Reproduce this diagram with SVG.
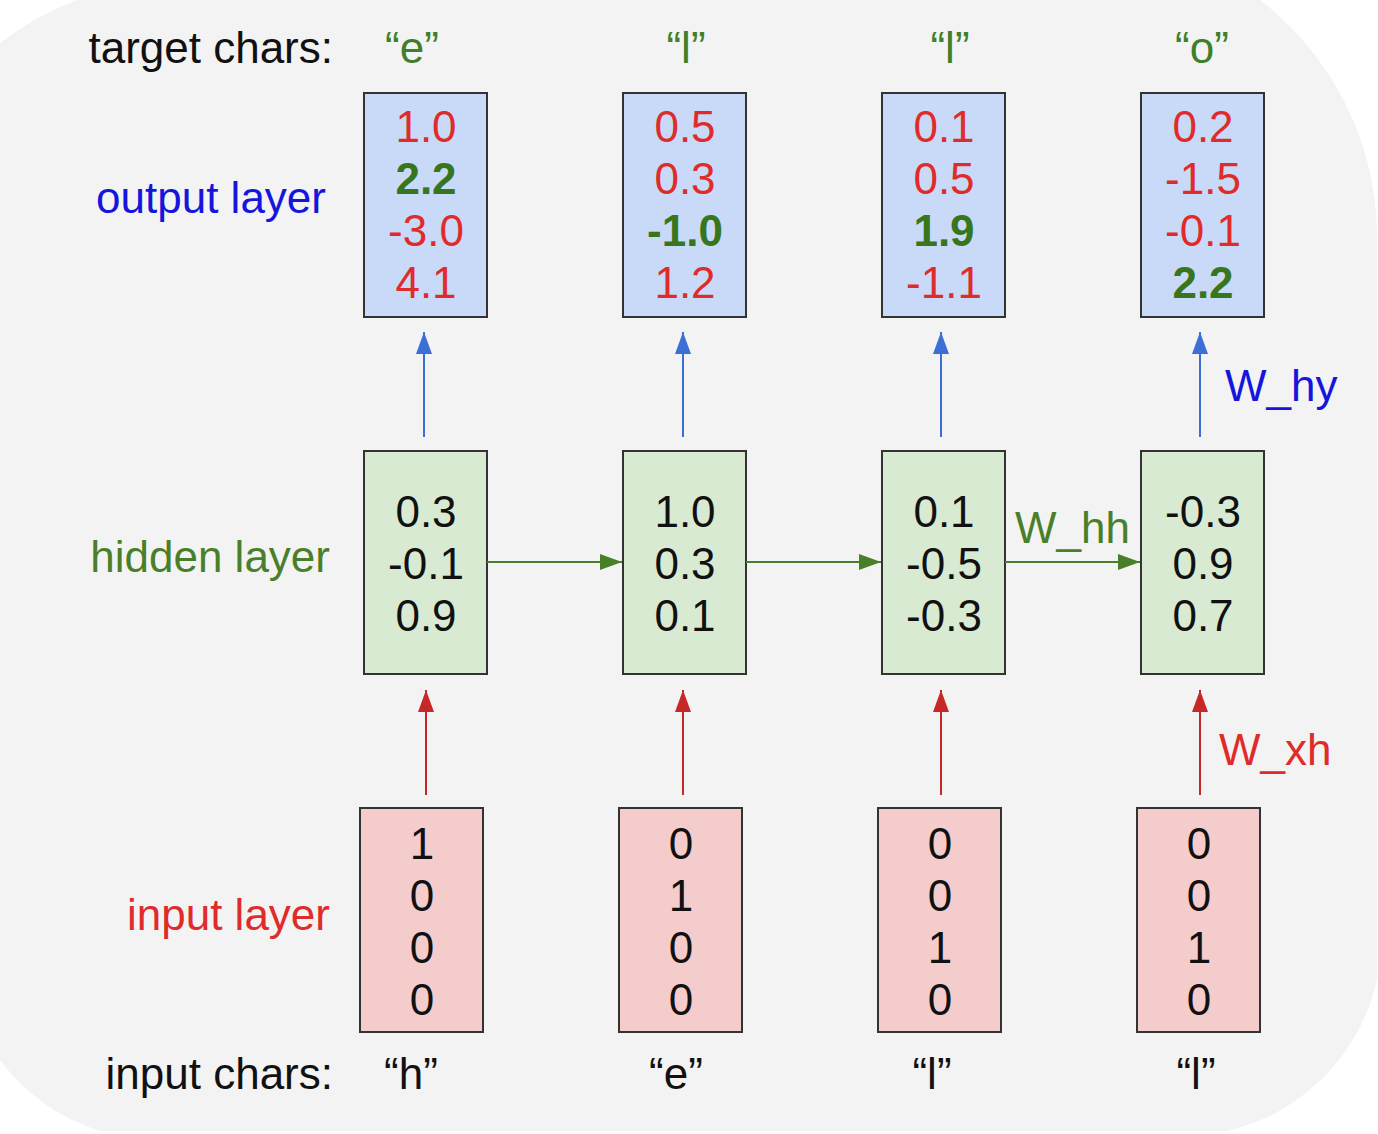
<svg xmlns="http://www.w3.org/2000/svg" width="1378" height="1134" viewBox="0 0 1378 1134">
<style>
text{font-family:"Liberation Sans",Arial,sans-serif;font-size:44px}
.num{text-anchor:middle}
.r{fill:#e02b2b}
.g{fill:#38761d;font-weight:bold}
.k{fill:#111}
.out rect{fill:#c9daf8;stroke:#333;stroke-width:2}
.hid rect{fill:#d9ead3;stroke:#333;stroke-width:2}
.inp rect{fill:#f4cccc;stroke:#333;stroke-width:2}
.lab{text-anchor:end}
</style>
<defs>
<marker id="ab" markerUnits="userSpaceOnUse" markerWidth="22" markerHeight="16" refX="22" refY="8" orient="auto"><path d="M0,0 L22,8 L0,16 z" fill="#3c6fd6"/></marker>
<marker id="ar" markerUnits="userSpaceOnUse" markerWidth="22" markerHeight="16" refX="22" refY="8" orient="auto"><path d="M0,0 L22,8 L0,16 z" fill="#c62828"/></marker>
<marker id="ag" markerUnits="userSpaceOnUse" markerWidth="22" markerHeight="16" refX="22" refY="8" orient="auto"><path d="M0,0 L22,8 L0,16 z" fill="#4a7f2a"/></marker>
</defs>
<rect width="1378" height="1134" fill="#fff"/>
<path d="M0,43 A300,300 0 0 1 77,0 L1260,0 A300,300 0 0 1 1377,230 L1377,980 A200,200 0 0 1 1227,1131 L100,1131 A200,200 0 0 1 0,1060 Z" fill="#f3f3f3"/>

<g id="labels">
<text class="lab k" x="333" y="63">target chars:</text>
<text class="lab" x="326" y="213" fill="#1515dd">output layer</text>
<text class="lab" x="330" y="572" fill="#4a7f2a">hidden layer</text>
<text class="lab" x="330" y="930" fill="#e02b2b">input layer</text>
<text class="lab k" x="333" y="1089">input chars:</text>
<text class="num" x="412" y="63" fill="#3f7f2a">“e”</text>
<text class="num" x="686" y="63" fill="#3f7f2a">“l”</text>
<text class="num" x="950" y="63" fill="#3f7f2a">“l”</text>
<text class="num" x="1202" y="63" fill="#3f7f2a">“o”</text>
<text class="num k" x="411" y="1089">“h”</text>
<text class="num k" x="676" y="1089">“e”</text>
<text class="num k" x="932" y="1089">“l”</text>
<text class="num k" x="1196" y="1089">“l”</text>
<text x="1225" y="401" fill="#1515dd">W_hy</text>
<text x="1015" y="543" fill="#4a7f2a">W_hh</text>
<text x="1219" y="765" fill="#e02b2b">W_xh</text>
</g>

<g id="out1" class="out"><rect x="364" y="93" width="123" height="224"/>
<text class="num r" x="426" y="142">1.0</text><text class="num g" x="426" y="194">2.2</text><text class="num r" x="426" y="246">-3.0</text><text class="num r" x="426" y="298">4.1</text></g>
<g id="out2" class="out"><rect x="623" y="93" width="123" height="224"/>
<text class="num r" x="685" y="142">0.5</text><text class="num r" x="685" y="194">0.3</text><text class="num g" x="685" y="246">-1.0</text><text class="num r" x="685" y="298">1.2</text></g>
<g id="out3" class="out"><rect x="882" y="93" width="123" height="224"/>
<text class="num r" x="944" y="142">0.1</text><text class="num r" x="944" y="194">0.5</text><text class="num g" x="944" y="246">1.9</text><text class="num r" x="944" y="298">-1.1</text></g>
<g id="out4" class="out"><rect x="1141" y="93" width="123" height="224"/>
<text class="num r" x="1203" y="142">0.2</text><text class="num r" x="1203" y="194">-1.5</text><text class="num r" x="1203" y="246">-0.1</text><text class="num g" x="1203" y="298">2.2</text></g>

<g id="hid1" class="hid"><rect x="364" y="451" width="123" height="223"/>
<text class="num k" x="426" y="527">0.3</text><text class="num k" x="426" y="579">-0.1</text><text class="num k" x="426" y="631">0.9</text></g>
<g id="hid2" class="hid"><rect x="623" y="451" width="123" height="223"/>
<text class="num k" x="685" y="527">1.0</text><text class="num k" x="685" y="579">0.3</text><text class="num k" x="685" y="631">0.1</text></g>
<g id="hid3" class="hid"><rect x="882" y="451" width="123" height="223"/>
<text class="num k" x="944" y="527">0.1</text><text class="num k" x="944" y="579">-0.5</text><text class="num k" x="944" y="631">-0.3</text></g>
<g id="hid4" class="hid"><rect x="1141" y="451" width="123" height="223"/>
<text class="num k" x="1203" y="527">-0.3</text><text class="num k" x="1203" y="579">0.9</text><text class="num k" x="1203" y="631">0.7</text></g>

<g id="in1" class="inp"><rect x="360" y="808" width="123" height="224"/>
<text class="num k" x="422" y="859">1</text><text class="num k" x="422" y="911">0</text><text class="num k" x="422" y="963">0</text><text class="num k" x="422" y="1015">0</text></g>
<g id="in2" class="inp"><rect x="619" y="808" width="123" height="224"/>
<text class="num k" x="681" y="859">0</text><text class="num k" x="681" y="911">1</text><text class="num k" x="681" y="963">0</text><text class="num k" x="681" y="1015">0</text></g>
<g id="in3" class="inp"><rect x="878" y="808" width="123" height="224"/>
<text class="num k" x="940" y="859">0</text><text class="num k" x="940" y="911">0</text><text class="num k" x="940" y="963">1</text><text class="num k" x="940" y="1015">0</text></g>
<g id="in4" class="inp"><rect x="1137" y="808" width="123" height="224"/>
<text class="num k" x="1199" y="859">0</text><text class="num k" x="1199" y="911">0</text><text class="num k" x="1199" y="963">1</text><text class="num k" x="1199" y="1015">0</text></g>

<g id="connectors" fill="none" stroke-width="2">
<g stroke="#3c6fd6" marker-end="url(#ab)">
<line x1="424" y1="437" x2="424" y2="332"/>
<line x1="683" y1="437" x2="683" y2="332"/>
<line x1="941" y1="437" x2="941" y2="332"/>
<line x1="1200" y1="437" x2="1200" y2="332"/>
</g>
<g stroke="#4a7f2a" marker-end="url(#ag)">
<line x1="487" y1="562" x2="622" y2="562"/>
<line x1="746" y1="562" x2="881" y2="562"/>
<line x1="1005" y1="562" x2="1140" y2="562"/>
</g>
<g stroke="#c62828" marker-end="url(#ar)">
<line x1="426" y1="795" x2="426" y2="690"/>
<line x1="683" y1="795" x2="683" y2="690"/>
<line x1="941" y1="795" x2="941" y2="690"/>
<line x1="1200" y1="795" x2="1200" y2="690"/>
</g>
</g>
</svg>
